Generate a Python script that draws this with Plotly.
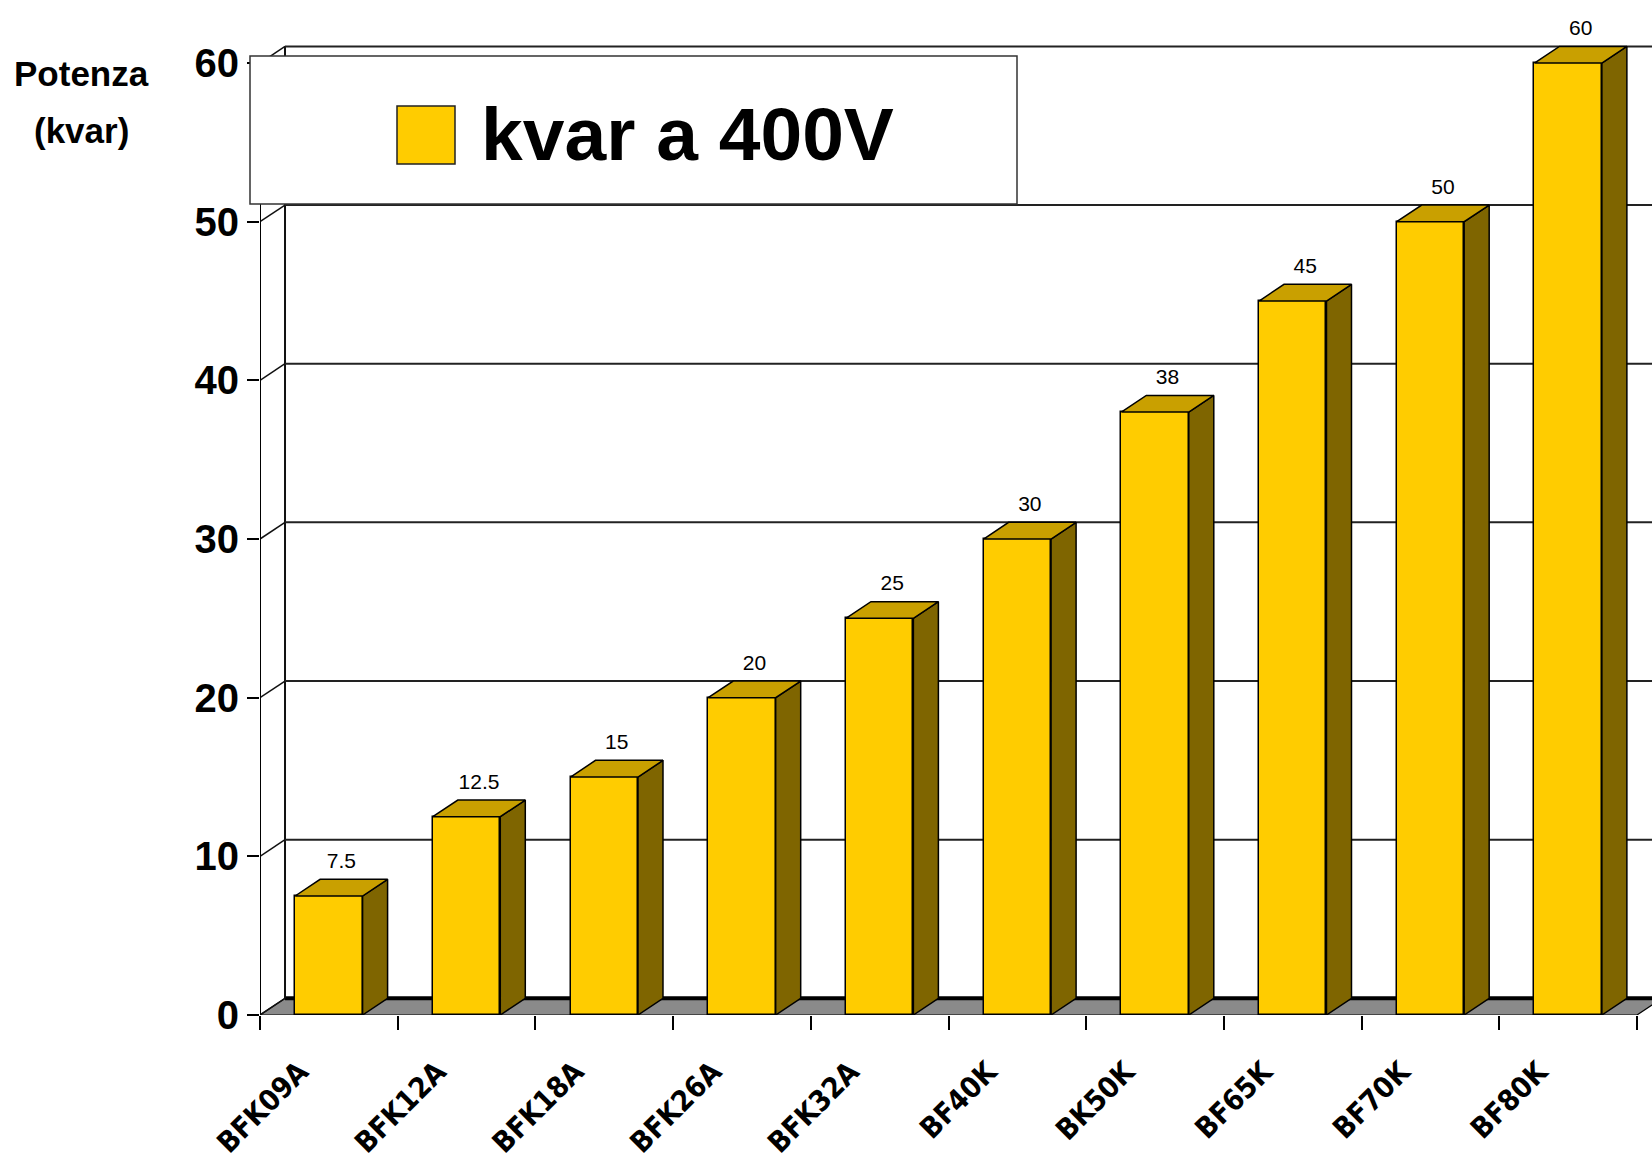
import plotly.graph_objects as go

categories = ["BFK09A", "BFK12A", "BFK18A", "BFK26A", "BFK32A", "BF40K", "BK50K", "BF65K", "BF70K", "BF80K"]
values = [7.5, 12.5, 15, 20, 25, 30, 38, 45, 50, 60]
value_labels = ["7.5", "12.5", "15", "20", "25", "30", "38", "45", "50", "60"]
y_ticks = [0, 10, 20, 30, 40, 50, 60]
series_name = "kvar a 400V"

NARROW = "DejaVu Sans Condensed, Liberation Sans Narrow, Liberation Sans, Arial, sans-serif"
SANS = "Liberation Sans, Arial, sans-serif"
W, H = 1652, 1160
L, R, T, B = 260, 0, 44, 145
PW, PH = W - L - R, H - T - B
X_MIN, X_MAX = -0.5, 9.609
Y_MIN, Y_MAX = 0, 61.2
DX = 0.1816   # depth offset in category units
DY = 1.05     # depth offset in value units
BW = 0.49     # bar width

FRONT = "#FFCC00"
SIDE = "#7F6500"
TOP = "#C9A000"

def px_x(p):
    return (p - L) / PW

def px_y(p):
    return (H - B - p) / PH

idx = list(range(len(categories)))
fig = go.Figure()

# front faces
fig.add_trace(go.Bar(x=idx, y=values, width=BW, marker=dict(color=FRONT, line=dict(color="black", width=1.5)),
                     showlegend=False, hoverinfo="skip"))

# side and top faces
sx, sy, tx, ty = [], [], [], []
for i, v in zip(idx, values):
    r = i + BW / 2
    l = i - BW / 2
    sx += [r, r + DX, r + DX, r, r, None]
    sy += [0, DY, v + DY, v, 0, None]
    tx += [l, r, r + DX, l + DX, l, None]
    ty += [v, v, v + DY, v + DY, v, None]
fig.add_trace(go.Scatter(x=sx, y=sy, fill="toself", fillcolor=SIDE, mode="lines",
                         line=dict(color="black", width=1.5), showlegend=False, hoverinfo="skip"))
fig.add_trace(go.Scatter(x=tx, y=ty, fill="toself", fillcolor=TOP, mode="lines",
                         line=dict(color="black", width=1.5), showlegend=False, hoverinfo="skip"))

# value labels
fig.add_trace(go.Scatter(x=[i + DX / 2 for i in idx], y=[v + DY for v in values], mode="markers+text",
                         marker=dict(size=8, color="rgba(0,0,0,0)"),
                         text=value_labels, textposition="top center", cliponaxis=False,
                         textfont=dict(family=SANS, size=21, color="black"),
                         showlegend=False, hoverinfo="skip"))

# dummy trace for label axis
fig.add_trace(go.Scatter(x=idx, y=[None] * len(idx), xaxis="x2", mode="markers",
                         showlegend=False, hoverinfo="skip"))

shapes = []
# floor
shapes.append(dict(type="path", xref="x", yref="y", layer="below",
                   path=f"M{X_MIN},0 L9.5,0 L{9.5 + DX},{DY} L{X_MIN + DX},{DY} Z",
                   fillcolor="#8A8A8A", line=dict(color="black", width=1.2)))
shapes.append(dict(type="line", xref="x", yref="y", layer="below",
                   x0=X_MIN + DX, x1=X_MAX + 1, y0=DY, y1=DY, line=dict(color="black", width=4)))
# back wall vertical
shapes.append(dict(type="line", xref="x", yref="y", layer="below",
                   x0=X_MIN + DX, x1=X_MIN + DX, y0=DY, y1=60 + DY, line=dict(color="#111", width=2)))
# gridlines + connectors
for k in y_ticks:
    if k > 0:
        shapes.append(dict(type="line", xref="x", yref="y", layer="below",
                           x0=X_MIN + DX, x1=X_MAX + 1, y0=k + DY, y1=k + DY,
                           line=dict(color="#222", width=2)))
    shapes.append(dict(type="line", xref="x", yref="y", layer="below",
                       x0=X_MIN, x1=X_MIN + DX, y0=k, y1=k + DY, line=dict(color="#111", width=1.5)))
# front y axis line
shapes.append(dict(type="line", xref="x", yref="y", layer="below",
                   x0=X_MIN, x1=X_MIN, y0=0, y1=60, line=dict(color="black", width=2)))

# legend box (manual)
shapes.append(dict(type="rect", xref="paper", yref="paper", layer="above",
                   x0=px_x(250), x1=px_x(1017), y0=px_y(204), y1=px_y(56),
                   fillcolor="white", line=dict(color="#333", width=1.5)))
shapes.append(dict(type="rect", xref="paper", yref="paper", layer="above",
                   x0=px_x(397), x1=px_x(455), y0=px_y(164), y1=px_y(106),
                   fillcolor=FRONT, line=dict(color="#222", width=1.5)))

annotations = [
    dict(xref="paper", yref="paper", x=px_x(479), y=px_y(134), xanchor="left", yanchor="middle",
         text=series_name, showarrow=False,
         font=dict(family=SANS, size=75, color="black", weight="bold")),
    dict(xref="paper", yref="paper", x=px_x(81), y=px_y(74), xanchor="center", yanchor="middle",
         text="Potenza", showarrow=False,
         font=dict(family=SANS, size=35, color="black", weight="bold")),
    dict(xref="paper", yref="paper", x=px_x(81), y=px_y(130), xanchor="center", yanchor="middle",
         text="(kvar)", showarrow=False,
         font=dict(family=SANS, size=35, color="black", weight="bold")),
]

fig.update_layout(
    width=W, height=H,
    margin=dict(l=L, r=R, t=T, b=B, pad=0),
    paper_bgcolor="white", plot_bgcolor="white",
    bargap=0,
    shapes=shapes,
    annotations=annotations,
    xaxis=dict(range=[X_MIN, X_MAX], tickvals=[i - 0.5 for i in range(len(categories) + 1)],
               showticklabels=False, ticks="outside", ticklen=14, tickwidth=1.5, tickcolor="black",
               showgrid=False, zeroline=False, showline=False),
    xaxis2=dict(overlaying="x", matches="x", side="bottom", range=[X_MIN, X_MAX],
                tickvals=idx, ticktext=categories, tickangle=-45, ticks="",
                ticklabelstandoff=33, ticklabelshift=-29,
                tickfont=dict(family=NARROW, size=29, color="black", weight="bold"),
                showgrid=False, zeroline=False, showline=False),
    yaxis=dict(range=[Y_MIN, Y_MAX], tickvals=y_ticks, ticks="outside", ticklen=12, tickwidth=1.5,
               tickcolor="black", showgrid=False, zeroline=False, showline=False,
               tickfont=dict(family=SANS, size=40, color="black", weight="bold")),
)

fig.write_html("out.html", config={"displayModeBar": False},
               post_script="document.body.style.margin='0';")
